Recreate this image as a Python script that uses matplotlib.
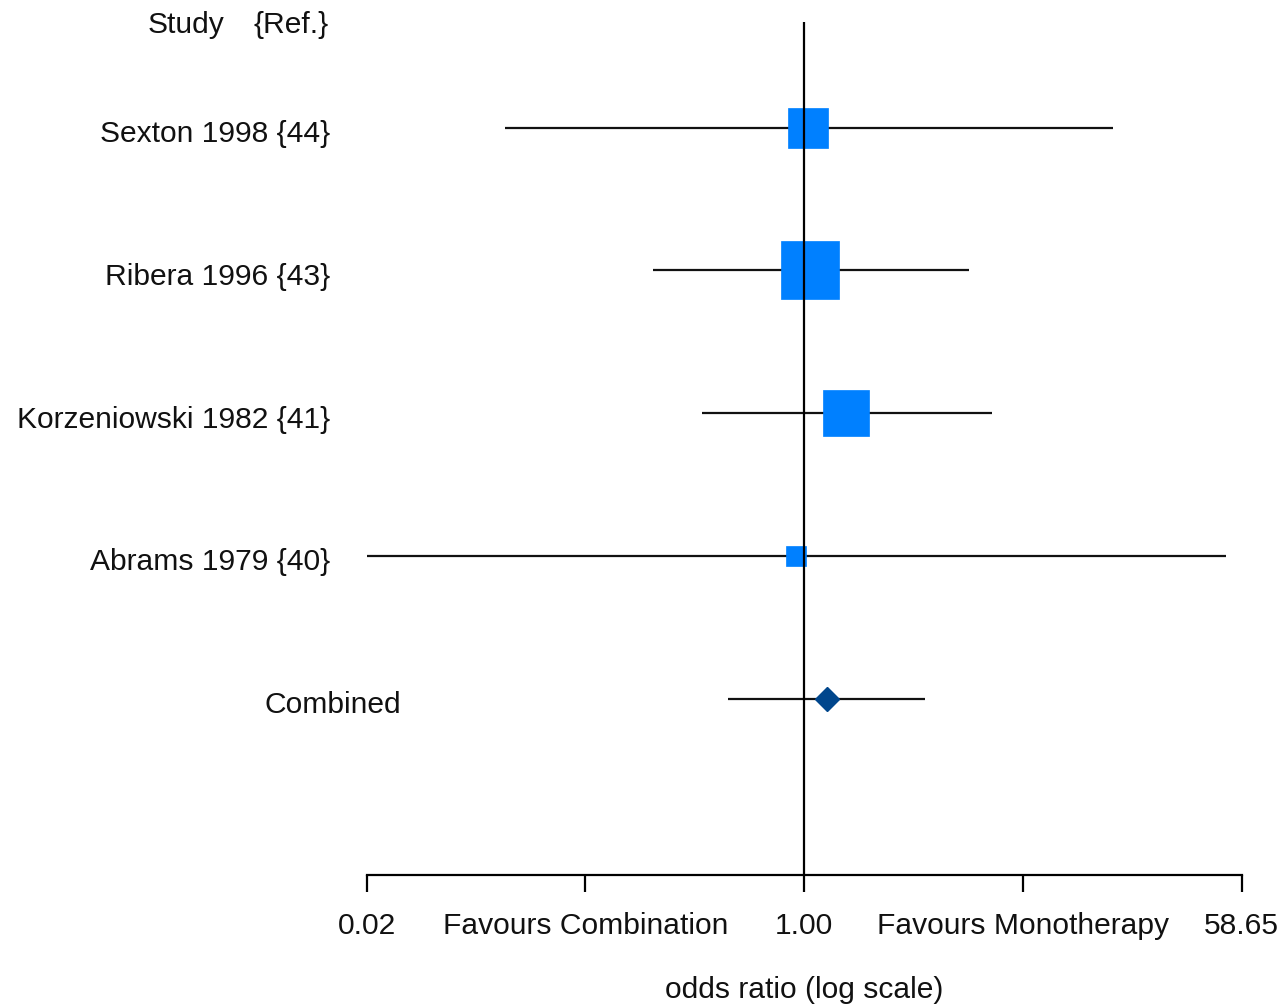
import numpy as np
import matplotlib
matplotlib.use("Agg")
import matplotlib.pyplot as plt
import matplotlib.transforms as mtransforms

# ---- data ----
studies = ["Sexton 1998 {44}", "Ribera 1996 {43}", "Korzeniowski 1982 {41}", "Abrams 1979 {40}"]
odds_ratio = [1.04, 1.06, 1.47, 0.93]
ci_lower = [0.0616, 0.244, 0.385, 0.01705]
ci_upper = [17.66, 4.62, 5.73, 50.5]
weights = [21.6, 44.3, 28.5, 5.5]  # relative weights (%)

combined_label = "Combined"
combined_or = 1.24
combined_lower = 0.492
combined_upper = 3.07

axis_limit = 58.65
tick_values = [1 / 58.65, 1 / np.sqrt(58.65), 1.0, np.sqrt(58.65), 58.65]
tick_labels = ["0.02", "Favours Combination", "1.00", "Favours Monotherapy", "58.65"]
header_study = "Study"
header_ref = "{Ref.}"
x_label = "odds ratio (log scale)"

# ---- style ----
plt.rcParams["font.family"] = ["Liberation Sans", "DejaVu Sans"]
FS = 21.6
W, H = 1286, 1007
fig = plt.figure(figsize=(W / 100, H / 100), dpi=100)
ax_left, ax_right, ax_top, ax_bottom = 366.7, 1241.7, 22, 875
ax = fig.add_axes([ax_left / W, 1 - ax_bottom / H, (ax_right - ax_left) / W, (ax_bottom - ax_top) / H])

ax.set_xscale("log")
ax.set_xlim(1 / axis_limit, axis_limit)
ax.set_ylim(6.233, 0.26)

rows = np.arange(1, len(studies) + 1)
comb_row = len(studies) + 1

# CI lines
ax.hlines(rows, ci_lower, ci_upper, color="#111111", lw=1.6, zorder=2)
ax.hlines(comb_row, combined_lower, combined_upper, color="#111111", lw=1.6, zorder=2)

# boxes (side proportional to sqrt(weight))
px_per_unit = 58.0 / np.sqrt(max(weights))
for r, o, w in zip(rows, odds_ratio, weights):
    side_pt = px_per_unit * np.sqrt(w) * 0.72
    ax.plot([o], [r], marker="s", ms=side_pt, color="#0080FF", mec="#0080FF", mew=0.5,
            ls="none", zorder=3)

# combined diamond
ax.plot([combined_or], [comb_row], marker="D", ms=12.0, color="#00468C", mec="#00468C",
        ls="none", zorder=3)

# line of no effect
ax.axvline(1.0, color="black", lw=1.6, zorder=4)

# axes styling
for s in ["top", "right", "left"]:
    ax.spines[s].set_visible(False)
ax.spines["bottom"].set_linewidth(1.6)
ax.set_yticks([])
ax.xaxis.set_minor_locator(matplotlib.ticker.NullLocator())
ax.set_xticks(tick_values)
ax.set_xticklabels(tick_labels, fontsize=FS, color="#111111")
ax.tick_params(axis="x", direction="out", length=12, width=1.6, pad=15)
ax.set_xlabel(x_label, fontsize=FS, color="#111111", labelpad=25.5)

# labels
trans = mtransforms.blended_transform_factory(fig.transFigure, ax.transData)
lab_trans = mtransforms.offset_copy(trans, fig=fig, x=0, y=-14.3, units="dots")
for r, name in zip(rows, studies):
    ax.text(330 / W, r, name, transform=lab_trans, ha="right", va="baseline",
            fontsize=FS, color="#111111", clip_on=False)
ax.text(264 / W, comb_row, combined_label, transform=lab_trans, ha="left", va="baseline",
        fontsize=FS, color="#111111", clip_on=False)

hdr_trans = mtransforms.offset_copy(trans, fig=fig, x=0, y=-11, units="dots")
ax.text(148 / W, 0.26, header_study, transform=hdr_trans, ha="left", va="baseline",
        fontsize=FS, color="#111111", clip_on=False)
ax.text(329 / W, 0.26, header_ref, transform=hdr_trans, ha="right", va="baseline",
        fontsize=FS, color="#111111", clip_on=False)

fig.savefig("out.png", dpi=100, facecolor="white")
